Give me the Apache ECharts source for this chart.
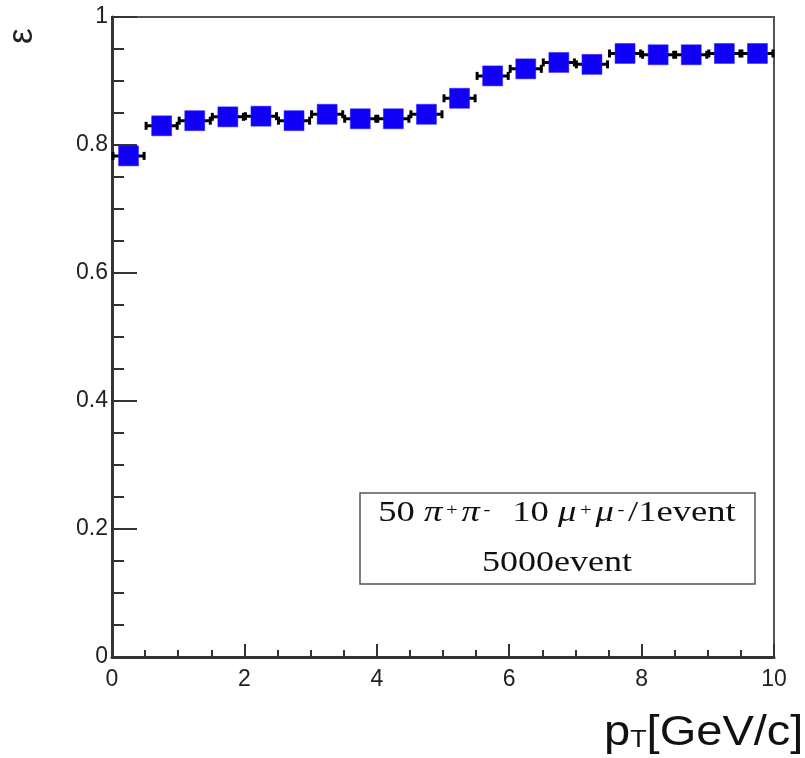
<!DOCTYPE html>
<html>
<head>
<meta charset="utf-8">
<script src="https://cdn.jsdelivr.net/npm/echarts@6/dist/echarts.min.js"></script>
<style>
html,body{margin:0;padding:0;background:#fff;}
#chart{width:805px;height:758px;}
</style>
</head>
<body>
<div id="chart"></div>
<script>
// bin centres (pT, GeV/c)
var binCenters = [0.25,0.75,1.25,1.75,2.25,2.75,3.25,3.75,4.25,4.75,5.25,5.75,6.25,6.75,7.25,7.75,8.25,8.75,9.25,9.75];
// efficiency values
var efficiency = [0.783,0.830,0.838,0.844,0.845,0.838,0.848,0.841,0.841,0.848,0.873,0.908,0.919,0.929,0.926,0.943,0.941,0.941,0.943,0.943];
// half bin width (x error) and y error
var xErr = [0.25,0.25,0.25,0.25,0.25,0.25,0.25,0.25,0.25,0.25,0.25,0.25,0.25,0.25,0.25,0.25,0.25,0.25,0.25,0.25];
var yErr = [0.004,0.004,0.004,0.004,0.004,0.004,0.004,0.004,0.004,0.004,0.004,0.004,0.004,0.004,0.004,0.004,0.004,0.004,0.004,0.004];
var yTicks = [0,0.2,0.4,0.6,0.8,1];
var xTicks = [0,2,4,6,8,10];

var errData = binCenters.map(function(x,i){return [x, efficiency[i], xErr[i], yErr[i]];});
var ptData = binCenters.map(function(x,i){return [x, efficiency[i]];});

var chart = echarts.init(document.getElementById('chart'));
var labelFont = {fontFamily:'Liberation Sans, Arial, sans-serif', fontSize:23, color:'#222'};
var serif = 'Liberation Serif, Times New Roman, serif';

chart.setOption({
  animation:false,
  grid:{left:112, right:31, top:17, bottom:101, show:true, borderColor:'#555', borderWidth:2, backgroundColor:'transparent'},
  xAxis:{
    type:'value', min:0, max:10, interval:2,
    axisLine:{show:true, onZero:false, lineStyle:{color:'#333', width:3}},
    axisTick:{show:true, inside:true, length:13, lineStyle:{color:'#333', width:2}},
    minorTick:{show:true, splitNumber:4, length:7, lineStyle:{color:'#333', width:2}},
    splitLine:{show:false},
    axisLabel:Object.assign({margin:11, formatter:function(v){return xTicks.indexOf(v)>=0?String(v):'';}}, labelFont)
  },
  yAxis:{
    type:'value', min:0, max:1, interval:0.2,
    axisLine:{show:true, onZero:false, lineStyle:{color:'#333', width:3}},
    axisTick:{show:true, inside:true, length:25, lineStyle:{color:'#333', width:2}},
    minorTick:{show:true, splitNumber:4, length:12, lineStyle:{color:'#333', width:2}},
    splitLine:{show:false},
    axisLabel:Object.assign({margin:4, formatter:function(v){
      var r = Math.round(v*10)/10; return yTicks.indexOf(r)>=0 ? String(r) : '';}}, labelFont)
  },
  series:[
    {
      type:'custom',
      data:errData,
      z:2,
      renderItem:function(params, api){
        var x=api.value(0), y=api.value(1), ex=api.value(2), ey=api.value(3);
        var pl=api.coord([x-ex,y]), pr=api.coord([x+ex,y]);
        var pt=api.coord([x,y+ey]), pb=api.coord([x,y-ey]);
        var st={stroke:'#000', lineWidth:3};
        return {type:'group', children:[
          {type:'line', shape:{x1:pl[0],y1:pl[1],x2:pr[0],y2:pr[1]}, style:st},
          {type:'line', shape:{x1:pl[0]+1,y1:pl[1]-4,x2:pl[0]+1,y2:pl[1]+4}, style:st},
          {type:'line', shape:{x1:pr[0]-1,y1:pr[1]-4,x2:pr[0]-1,y2:pr[1]+4}, style:st},
          {type:'line', shape:{x1:pt[0],y1:pt[1],x2:pb[0],y2:pb[1]}, style:st}
        ]};
      }
    },
    {
      type:'scatter',
      data:ptData,
      symbol:'rect',
      symbolSize:20,
      z:3,
      itemStyle:{color:'#1000f6', opacity:1, borderColor:'#2a20ff', borderWidth:0.5}
    }
  ],
  graphic:[
    {type:'text', x:5, y:44, rotation:Math.PI/2,
      style:{text:'ε', font:'35px "Liberation Sans", Arial, sans-serif', fill:'#222', verticalAlign:'top', align:'left'}},
    {type:'text', x:604, y:754, scaleX:1.12,
      style:{text:'{p|p}{s|T}{p|[GeV/c]}', verticalAlign:'bottom',
        rich:{p:{fontFamily:'Liberation Sans, Arial, sans-serif', fontSize:42, fill:'#111', verticalAlign:'bottom'},
              s:{fontFamily:'Liberation Sans, Arial, sans-serif', fontSize:24, fill:'#111', verticalAlign:'bottom', padding:[0,0,2,0]}}}},
    {type:'rect', shape:{x:360, y:493, width:395, height:91},
      style:{fill:'#fff', stroke:'#555', lineWidth:1.5}},
    {type:'text', x:557, y:528, scaleX:1.22,
      style:{
      text:'{n|50 }{g|π}{u|+}{g|π}{u|-}{n|  10 }{g|μ}{u|+}{g|μ}{u|-}{n|/1event}',
      align:'center', verticalAlign:'bottom',
      rich:{
        n:{fontFamily:serif, fontSize:30, fill:'#111', verticalAlign:'bottom'},
        g:{fontFamily:serif, fontSize:30, fontStyle:'italic', fill:'#111', verticalAlign:'bottom'},
        u:{fontFamily:serif, fontSize:17, fill:'#111', verticalAlign:'bottom', padding:[0,3,9,3]}
      }}},
    {type:'text', x:557, y:578, scaleX:1.2, style:{
      text:'5000event', align:'center', verticalAlign:'bottom',
      font:'30px "Liberation Serif", "Times New Roman", serif', fill:'#111'}}
  ]
});
</script>
</body>
</html>
